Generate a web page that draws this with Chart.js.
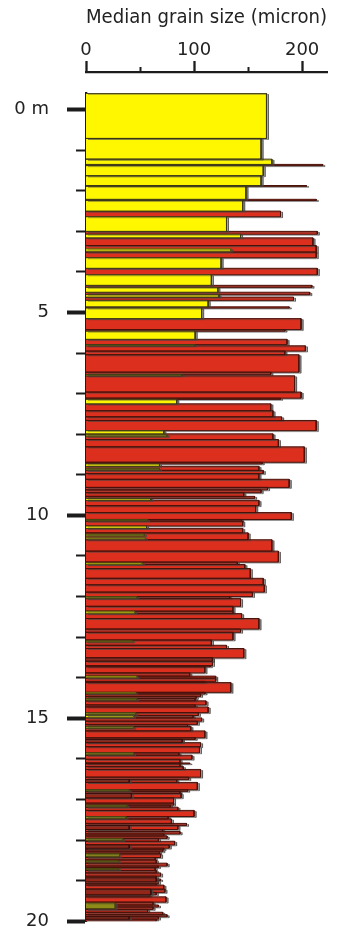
<!DOCTYPE html>
<html>
<head>
<meta charset="utf-8">
<script src="https://cdn.jsdelivr.net/npm/chart.js@4"></script>
<style>
  html, body { margin: 0; padding: 0; background: #fff; }
  #wrap { width: 337px; height: 950px; position: relative; }
</style>
</head>
<body>
<div id="wrap"><canvas id="coreChart"></canvas></div>
<script>
// axis ticks
const depthTicks = [0, 1, 2, 3, 4, 5, 6, 7, 8, 9, 10, 11, 12, 13, 14, 15, 16, 17, 18, 19, 20];
const sizeTicks = [0, 50, 100, 150, 200];

// sand beds (yellow): top / base in m, median grain size in micron
const sandTop  = [-0.40, 0.71, 1.22, 1.38, 1.63, 1.89, 2.24, 2.64, 3.07, 3.65, 4.07, 4.38, 4.56, 4.70, 4.89, 5.46, 5.79, 6.53, 7.14, 7.91, 8.73, 9.58, 10.26];
const sandBase = [0.71, 1.22, 1.35, 1.63, 1.87, 2.21, 2.50, 3.00, 3.16, 3.91, 4.33, 4.50, 4.62, 4.86, 5.15, 5.66, 5.82, 6.56, 7.25, 7.99, 8.79, 9.63, 10.32];
const sandSize = [167, 162, 172, 164, 162, 148, 145, 130, 143, 125, 116, 122, 123, 113, 107, 101, 101, 89, 84, 72, 68, 60, 56];

// mud beds (red)
const mudTop = [
  1.35, 1.87, 2.21, 2.50, 3.00, 3.16, 3.35, 3.51, 3.91, 4.33,
  4.50, 4.62, 4.86, 5.15, 5.42, 5.66, 5.82, 5.95, 6.04, 6.47,
  6.56, 6.96, 7.11, 7.25, 7.42, 7.57, 7.66, 7.99, 8.13, 8.31,
  8.69, 8.79, 8.89, 8.97, 9.11, 9.31, 9.37, 9.44, 9.53, 9.63,
  9.76, 9.93, 10.10, 10.14, 10.32, 10.43, 10.60, 10.88, 11.15, 11.21,
  11.31, 11.55, 11.71, 11.89, 12.00, 12.05, 12.24, 12.36, 12.42, 12.54,
  12.80, 12.88, 13.07, 13.20, 13.28, 13.51, 13.59, 13.70, 13.73, 13.88,
  13.96, 14.01, 14.09, 14.12, 14.36, 14.40, 14.46, 14.51, 14.57, 14.67,
  14.72, 14.86, 14.93, 14.99, 15.07, 15.15, 15.20, 15.31, 15.48, 15.52,
  15.60, 15.70, 15.85, 15.91, 16.01, 16.10, 16.12, 16.19, 16.26, 16.45,
  16.51, 16.58, 16.76, 16.80, 16.85, 16.96, 17.09, 17.14, 17.19, 17.27,
  17.42, 17.48, 17.59, 17.64, 17.74, 17.79, 17.85, 17.90, 17.96, 18.03,
  18.12, 18.20, 18.24, 18.29, 18.34, 18.43, 18.49, 18.57, 18.64, 18.68,
  18.75, 18.81, 18.89, 18.96, 19.00, 19.07, 19.11, 19.21, 19.29, 19.35,
  19.40, 19.53, 19.60, 19.65, 19.71, 19.78, 19.84, 19.89, 19.95
];
const mudBase = [
  1.38, 1.89, 2.24, 2.64, 3.07, 3.35, 3.51, 3.65, 4.07, 4.38,
  4.56, 4.70, 4.89, 5.42, 5.46, 5.79, 5.95, 6.04, 6.47, 6.53,
  6.96, 7.11, 7.14, 7.42, 7.57, 7.66, 7.91, 8.13, 8.31, 8.69,
  8.73, 8.89, 8.97, 9.11, 9.31, 9.37, 9.44, 9.53, 9.58, 9.76,
  9.93, 10.10, 10.14, 10.26, 10.43, 10.60, 10.88, 11.15, 11.21, 11.31,
  11.55, 11.71, 11.89, 12.00, 12.05, 12.24, 12.36, 12.42, 12.54, 12.80,
  12.88, 13.07, 13.20, 13.28, 13.51, 13.59, 13.70, 13.73, 13.88, 13.96,
  14.01, 14.09, 14.12, 14.36, 14.40, 14.46, 14.51, 14.57, 14.67, 14.72,
  14.86, 14.93, 14.99, 15.07, 15.15, 15.20, 15.31, 15.48, 15.52, 15.60,
  15.70, 15.85, 15.91, 16.01, 16.10, 16.12, 16.19, 16.26, 16.45, 16.51,
  16.58, 16.76, 16.80, 16.85, 16.96, 17.09, 17.14, 17.19, 17.27, 17.42,
  17.48, 17.59, 17.64, 17.74, 17.79, 17.85, 17.90, 17.96, 18.03, 18.12,
  18.20, 18.24, 18.29, 18.34, 18.43, 18.49, 18.57, 18.64, 18.68, 18.75,
  18.81, 18.89, 18.96, 19.00, 19.07, 19.11, 19.21, 19.29, 19.35, 19.40,
  19.53, 19.60, 19.65, 19.71, 19.78, 19.84, 19.89, 19.95, 20.00
];
const mudSize = [
  219, 204, 213, 180, 214, 210, 213, 213, 214, 209,
  207, 192, 188, 199, 184, 186, 203, 184, 197, 171,
  193, 199, 180, 171, 173, 181, 213, 173, 178, 202,
  163, 160, 164, 160, 188, 168, 162, 146, 156, 160,
  157, 190, 144, 145, 145, 150, 172, 178, 140, 147,
  152, 164, 165, 154, 133, 143, 136, 136, 144, 160,
  143, 136, 116, 130, 146, 117, 117, 115, 110, 96,
  120, 120, 110, 134, 110, 106, 102, 101, 111, 101,
  113, 104, 99, 107, 103, 94, 97, 110, 101, 89,
  106, 105, 86, 98, 87, 96, 87, 90, 106, 95,
  84, 103, 94, 87, 88, 81, 81, 78, 85, 100,
  76, 79, 93, 85, 71, 87, 72, 75, 67, 82,
  77, 72, 71, 68, 69, 64, 65, 75, 67, 64,
  65, 69, 65, 69, 67, 65, 72, 73, 65, 59,
  74, 62, 67, 62, 57, 71, 75, 67, 65
];

// second (inner) bars drawn over the mud beds: Y sand, O olive, D dark mud
const innerTop  = [3.43, 8.01, 8.84, 10.10, 10.46, 10.55, 11.17, 12.00, 12.36, 13.09, 13.51, 13.96, 14.36, 14.51, 14.86, 14.93, 15.20, 15.52, 15.85, 16.51, 16.76, 16.85, 17.14, 17.42, 17.64, 17.96, 18.12, 18.34, 18.51, 18.70, 18.93, 19.21, 19.55, 19.89];
const innerBase = [3.49, 8.06, 8.88, 10.13, 10.51, 10.58, 11.21, 12.04, 12.41, 13.12, 13.59, 14.00, 14.39, 14.55, 14.91, 14.98, 15.25, 15.60, 15.90, 16.58, 16.79, 16.96, 17.18, 17.47, 17.74, 18.01, 18.20, 18.41, 18.54, 18.73, 19.03, 19.35, 19.69, 19.95];
const innerSize = [134, 75, 68, 57, 54, 55, 52, 47, 45, 43, 117, 47, 46, 47, 46, 44, 44, 89, 44, 40, 40, 42, 38, 37, 40, 34, 40, 31, 30, 30, 65, 60, 27, 40];
const innerKind = ['Y', 'O', 'O', 'O', 'O', 'Y', 'Y', 'O', 'Y', 'O', 'D', 'Y', 'Y', 'O', 'O', 'Y', 'O', 'D', 'O', 'D', 'O', 'D', 'O', 'O', 'D', 'O', 'D', 'O', 'O', 'O', 'D', 'D', 'O', 'D'];

// each bed becomes a closed box outline; null point breaks the line between beds
function bedOutline(tops, bases, sizes) {
    const pts = [];
    tops.forEach((t, i) => {
        pts.push({x: 0, y: t}, {x: sizes[i], y: t}, {x: sizes[i], y: bases[i]}, {x: 0, y: bases[i]});
        pts.push({x: null, y: null});
    });
    return pts;
}

function innerOutline(kind) {
    const idx = innerKind.map((k, i) => k === kind ? i : -1).filter(i => i >= 0);
    return bedOutline(idx.map(i => innerTop[i]), idx.map(i => innerBase[i]), idx.map(i => innerSize[i]));
}

function bedSet(label, data, fillColor, lineColor) {
    return {
        label: label,
        data: data,
        backgroundColor: fillColor,
        borderColor: lineColor,
        borderWidth: 1,
        fill: 'shape',
        spanGaps: false,
        tension: 0,
        pointRadius: 0,
        pointHoverRadius: 0,
        borderJoinStyle: 'miter'
    };
}

// grey drop shadow behind the beds
const shadowPlugin = {
    id: 'bedShadow',
    beforeDatasetsDraw(chart) {
        const c = chart.ctx;
        c.save();
        c.shadowColor = 'rgba(70,70,70,0.45)';
        c.shadowOffsetX = 2;
        c.shadowOffsetY = 1;
        c.shadowBlur = 0;
    },
    afterDatasetsDraw(chart) {
        chart.ctx.restore();
    }
};

const axisFont = { family: "'DejaVu Sans', sans-serif", size: 18 };
const axisColor = '#1c1c1c';

const ctx = document.getElementById('coreChart').getContext('2d');
const coreChart = new Chart(ctx, {
    type: 'line',
    data: {
        datasets: [
            bedSet('olive', innerOutline('O'), '#8e8c16', '#4a4510'),
            bedSet('inner sand', innerOutline('Y'), '#f0e800', '#5a5410'),
            bedSet('dark mud', innerOutline('D'), '#932619', '#3a0e08'),
            bedSet('sand', bedOutline(sandTop, sandBase, sandSize), '#fff700', '#3a3618'),
            bedSet('mud', bedOutline(mudTop, mudBase, mudSize), '#dc2f1e', '#4a120a')
        ]
    },
    options: {
        responsive: true,
        maintainAspectRatio: false,
        animation: false,
        events: [],
        layout: { padding: { left: 0, right: 10, top: 0, bottom: 11 } },
        plugins: {
            legend: { display: false },
            tooltip: { enabled: false }
        },
        scales: {
            x: {
                type: 'linear',
                position: 'top',
                min: 0,
                max: 223,
                weight: 1,
                afterBuildTicks: s => { s.ticks = sizeTicks.map(v => ({value: v})); },
                afterFit: s => { s.height = 72; },
                ticks: {
                    padding: 0,
                    color: '#222',
                    font: axisFont,
                    autoSkip: false,
                    maxRotation: 0,
                    callback: v => v % 100 === 0 ? String(v) : ''
                },
                grid: {
                    drawOnChartArea: false,
                    tickLength: 11,
                    tickColor: axisColor,
                    tickWidth: c => c.tick && c.tick.value % 100 === 0 ? 2.3 : 2,
                    tickBorderDash: c => c.tick && c.tick.value % 100 === 0 ? [] : [0, 6, 5, 0]
                },
                border: { display: true, color: axisColor, width: 2.3 },
                title: {
                    display: true,
                    text: 'Median grain size (micron)',
                    color: '#222',
                    font: { family: "'DejaVu Sans', sans-serif", size: 19.5 },
                    padding: { top: 6, bottom: 0 }
                }
            },
            xGap: {
                type: 'linear',
                position: 'top',
                display: true,
                weight: 0,
                ticks: { display: false },
                grid: { display: false },
                border: { display: false },
                afterFit: s => { s.height = 21; }
            },
            y: {
                type: 'linear',
                position: 'left',
                reverse: true,
                min: -0.41,
                max: 20,
                z: 1,
                afterBuildTicks: s => { s.ticks = depthTicks.map(v => ({value: v})); },
                afterFit: s => { s.width = 86; },
                ticks: {
                    padding: 18,
                    color: '#222',
                    font: axisFont,
                    autoSkip: false,
                    callback: v => v === 0 ? '0 m' : (v % 5 === 0 ? String(v) : '')
                },
                grid: {
                    drawOnChartArea: false,
                    tickLength: 19,
                    tickColor: axisColor,
                    tickWidth: c => c.tick && c.tick.value % 5 === 0 ? 4 : 2,
                    tickBorderDash: c => c.tick && c.tick.value % 5 === 0 ? [] : [0, 9, 10, 0]
                },
                border: { display: true, color: axisColor, width: 2.3 }
            }
        }
    },
    plugins: [shadowPlugin]
});
</script>
</body>
</html>
